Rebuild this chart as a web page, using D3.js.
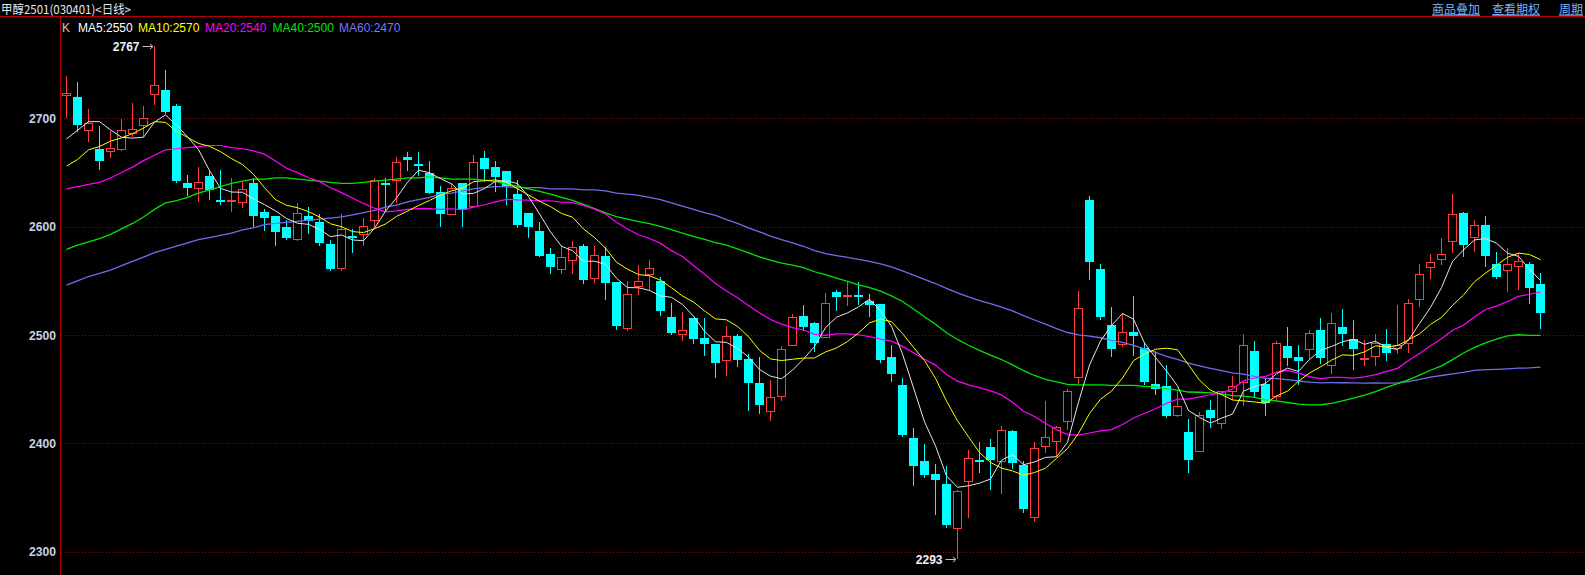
<!DOCTYPE html>
<html><head><meta charset="utf-8">
<script src="https://cdn.jsdelivr.net/npm/d3@7"></script>
<style>html,body{margin:0;padding:0;background:#000;overflow:hidden}</style>
</head><body>
<script>
const opens = [2721,2720,2688,2672,2669,2671,2686,2693,2722,2726,
2711,2640,2635,2647,2625,2624,2622,2640,2614,2610,
2600,2588,2610,2604,2584,2561,2591,2592,2605,2640,
2642,2664,2658,2650,2632,2611,2640,2618,2663,2655,
2651,2630,2613,2596,2575,2560,2568,2582,2552,2573,
2549,2506,2544,2555,2550,2517,2500,2516,2497,2492,
2476,2499,2478,2456,2429,2443,2490,2518,2511,2497,
2540,2535,2537,2531,2529,2480,2454,2405,2384,2372,
2362,2321,2364,2385,2397,2383,2411,2380,2331,2397,
2401,2420,2460,2625,2561,2509,2491,2503,2488,2455,
2453,2425,2410,2392,2431,2418,2447,2456,2485,2455,
2443,2490,2480,2486,2505,2471,2507,2496,2477,2480,
2492,2487,2492,2532,2562,2569,2586,2613,2590,2602,
2566,2559,2563,2566,2547];
const highs = [2739,2734,2709,2693,2688,2699,2714,2711,2767,2745,
2713,2648,2655,2652,2652,2645,2641,2645,2616,2610,
2606,2622,2618,2612,2588,2612,2598,2608,2645,2645,
2664,2669,2669,2661,2638,2640,2640,2666,2670,2661,
2651,2643,2613,2604,2580,2582,2587,2584,2582,2581,
2549,2550,2565,2569,2554,2530,2521,2516,2516,2492,
2508,2501,2482,2480,2458,2490,2519,2528,2512,2539,
2542,2550,2549,2538,2529,2491,2460,2414,2399,2381,
2379,2357,2394,2401,2404,2416,2412,2384,2401,2439,
2416,2450,2541,2628,2566,2526,2520,2536,2493,2485,
2472,2448,2422,2429,2440,2448,2462,2501,2494,2459,
2494,2507,2491,2505,2516,2520,2524,2514,2495,2501,
2506,2528,2533,2566,2575,2590,2630,2614,2606,2610,
2577,2580,2576,2567,2557];
const lows = [2700,2687,2678,2652,2663,2670,2683,2683,2712,2704,
2640,2628,2623,2625,2620,2614,2617,2600,2596,2582,
2588,2587,2593,2582,2559,2559,2576,2582,2600,2614,
2622,2651,2647,2630,2600,2611,2600,2618,2641,2632,
2620,2599,2590,2572,2556,2556,2556,2547,2548,2532,
2505,2504,2537,2541,2518,2500,2494,2492,2481,2460,
2462,2470,2430,2427,2421,2439,2490,2504,2484,2497,
2522,2527,2528,2517,2474,2457,2406,2361,2368,2334,
2322,2293,2331,2373,2357,2353,2376,2336,2327,2391,
2387,2412,2455,2551,2514,2480,2489,2481,2454,2445,
2423,2424,2373,2392,2414,2413,2440,2434,2443,2425,
2438,2471,2454,2478,2473,2464,2490,2468,2471,2471,
2476,2482,2483,2526,2552,2565,2576,2572,2577,2563,
2552,2540,2542,2529,2506];
const closes = [2723,2694,2696,2661,2673,2689,2690,2700,2731,2706,
2642,2636,2641,2634,2624,2625,2635,2610,2608,2595,
2590,2613,2605,2585,2561,2598,2590,2601,2643,2639,
2660,2662,2657,2631,2612,2636,2615,2660,2653,2646,
2638,2602,2600,2573,2563,2572,2581,2551,2574,2548,
2508,2538,2550,2562,2522,2502,2505,2496,2492,2474,
2499,2477,2456,2435,2443,2487,2517,2507,2493,2530,
2535,2537,2535,2528,2477,2464,2408,2379,2371,2366,
2325,2356,2386,2383,2385,2412,2382,2339,2396,2406,
2415,2448,2525,2567,2517,2487,2503,2499,2457,2450,
2425,2434,2385,2426,2423,2448,2453,2491,2447,2437,
2493,2479,2476,2502,2479,2511,2501,2487,2479,2493,
2483,2491,2530,2556,2567,2575,2612,2583,2602,2573,
2554,2566,2568,2543,2520];

// moving-average values for bars whose history lies before the visible window
const ma5Pre = [2681,2689,2697,2697];
const ma10Pre = [2656,2662,2671,2674,2679,2682,2686,2691,2697];
const ma20Pre = [2635,2637,2639,2641,2645,2650,2655,2661,2666,2671,2672,2673,2674,2675,2675,2673,2672,2670,2667];
const ma40Pre = [2579,2583,2586,2589,2593,2598,2603,2609,2616,2622,
2624,2627,2631,2634,2637,2640,2642,2644,2644,2645,
2645,2644,2643,2642,2641,2640,2640,2641,2642,2643,
2644,2645,2645,2646,2645,2644,2644,2644,2643];
const ma60Pre = [2546,2550,2554,2557,2560,2564,2568,2572,2576,2579,
2582,2585,2588,2590,2592,2594,2597,2599,2602,2603,
2604,2605,2606,2607,2608,2609,2611,2613,2615,2618,
2620,2623,2625,2627,2630,2631,2633,2635,2636,2637,
2637,2636,2636,2636,2635,2635,2635,2634,2634,2633,
2631,2630,2629,2627,2625,2622,2619,2616,2613];

const yTicks = [2300,2400,2500,2600,2700];
const maNames = ["MA5","MA10","MA20","MA40","MA60"];
const maPeriods = [5,10,20,40,60];
const maLegendValues = [2550,2570,2540,2500,2470];
const titleText = "甲醇2501(030401)<日线>";
const linkTexts = ["商品叠加","查看期权","周期"];

const W = 1585, H = 575;
const n = closes.length;
const svg = d3.select("body").append("svg").attr("width", W).attr("height", H)
  .style("display","block").style("background","#000");

const y = d3.scaleLinear().domain([2300, 2700]).range([551.6, 118.4]);
const x = d3.scaleLinear().domain([0, n - 1]).range([66, 66 + (n - 1) * 11]);

const RED = "#ff3c3c", CYAN = "#00ffff", AXIS = "#b40000";

// header
svg.append("text").attr("x", 1).attr("y", 13.5).text(titleText)
  .attr("fill", "#e8e8e8").attr("font-family", "'Noto Sans CJK SC', sans-serif")
  .attr("font-size", 12).attr("textLength", 130).attr("lengthAdjust", "spacingAndGlyphs");
const linkX = [1432, 1492, 1559];
linkTexts.forEach((t, i) => {
  svg.append("text").attr("x", linkX[i]).attr("y", 13.5).text(t)
    .attr("fill", "#78b4f4").attr("font-family", "'Noto Sans CJK SC', sans-serif")
    .attr("font-size", 12).attr("text-decoration", "underline");
});
svg.append("line").attr("x1", 0).attr("x2", W).attr("y1", 16.5).attr("y2", 16.5)
  .attr("stroke", AXIS).attr("stroke-width", 1);

// grid
svg.append("g").selectAll("line").data(yTicks).join("line")
  .attr("x1", 61).attr("x2", W)
  .attr("y1", d => Math.round(y(d)) + 0.5).attr("y2", d => Math.round(y(d)) + 0.5)
  .attr("stroke", "#a00000").attr("stroke-width", 1).attr("stroke-dasharray", "1,2");

// y axis
const yAxis = svg.append("g").attr("transform", "translate(60,0)")
  .call(d3.axisLeft(y).tickValues(yTicks).tickSize(0).tickPadding(4).tickFormat(d3.format("d")));
yAxis.select(".domain").remove();
yAxis.selectAll("text").attr("fill", "#c8d2e4").attr("font-family", "'Liberation Sans', Arial, sans-serif")
  .attr("font-size", 13).attr("font-weight", "bold")
  .attr("textLength", 27).attr("lengthAdjust", "spacingAndGlyphs");
svg.append("line").attr("x1", 60.5).attr("x2", 60.5).attr("y1", 17).attr("y2", H)
  .attr("stroke", AXIS).attr("stroke-width", 1);

// candles
const data = d3.range(n).map(i => ({i, o: opens[i], h: highs[i], l: lows[i], c: closes[i]}));
const cg = svg.append("g");
data.forEach(d => {
  const cx = Math.round(x(d.i)) + 0.5;
  const up = d.c >= d.o;
  const top = Math.round(y(Math.max(d.o, d.c)));
  const bot = Math.round(y(Math.min(d.o, d.c)));
  const yh = Math.round(y(d.h)), yl = Math.round(y(d.l));
  if (up) {
    cg.append("line").attr("x1", cx).attr("x2", cx).attr("y1", yh).attr("y2", top)
      .attr("stroke", RED).attr("stroke-width", 1);
    cg.append("line").attr("x1", cx).attr("x2", cx).attr("y1", bot).attr("y2", yl)
      .attr("stroke", RED).attr("stroke-width", 1);
    if (bot - top <= 1) {
      cg.append("rect").attr("x", cx - 4.5).attr("y", top).attr("width", 9).attr("height", Math.max(2, bot - top + 1)).attr("fill", RED);
    } else {
      cg.append("rect").attr("x", cx - 4).attr("y", top + 0.5).attr("width", 8).attr("height", bot - top - 1)
        .attr("fill", "none").attr("stroke", RED).attr("stroke-width", 1);
    }
  } else {
    cg.append("line").attr("x1", cx).attr("x2", cx).attr("y1", yh).attr("y2", yl)
      .attr("stroke", CYAN).attr("stroke-width", 1);
    cg.append("rect").attr("x", cx - 4.5).attr("y", top).attr("width", 9).attr("height", Math.max(2, bot - top))
      .attr("fill", CYAN);
  }
});

// moving averages
function ma(period, pre) {
  return closes.map((c, i) => i < period - 1 ? pre[i] : d3.mean(closes.slice(i - period + 1, i + 1)));
}
const maSeries = [ma(5, ma5Pre), ma(10, ma10Pre), ma(20, ma20Pre), ma(40, ma40Pre), ma(60, ma60Pre)];
const maColors = ["#e6e6e6", "#ffff00", "#ff00ff", "#00e600", "#6e6ef0"];
const maWidths = [1, 1, 1.2, 1.3, 1.3];
const line = d3.line().x((d, i) => Math.round(x(i)) + 0.5).y(d => y(d));
[4, 3, 2, 1, 0].forEach(k => {
  svg.append("path").datum(maSeries[k]).attr("d", line)
    .attr("fill", "none").attr("stroke", maColors[k]).attr("stroke-width", maWidths[k]);
});

// legend
const lg = svg.append("g").attr("font-family", "'Liberation Sans', Arial, sans-serif").attr("font-size", 12);
lg.append("text").attr("x", 62).attr("y", 31.5).attr("fill", "#c8c8c8").text("K");
const legX = [78, 138, 205, 272.5, 339];
maNames.forEach((nm, k) => {
  lg.append("text").attr("x", legX[k]).attr("y", 31.5).attr("fill", maColors[k] === "#e6e6e6" ? "#ffffff" : (k === 4 ? "#7878f8" : maColors[k]))
    .text(nm + ":" + maLegendValues[k]);
});

// max / min annotations
const iMax = d3.maxIndex(highs), iMin = d3.minIndex(lows);
function annot(i, v) {
  const cx = Math.round(x(i)) + 0.5;
  const yy = Math.round(y(v)) + 0.5;
  svg.append("text").attr("x", cx - 15).attr("y", yy + 4.5).attr("text-anchor", "end")
    .attr("fill", "#eef0f8").attr("font-family", "'Liberation Sans', Arial, sans-serif")
    .attr("font-size", 12).attr("font-weight", "bold").text(v);
  svg.append("line").attr("x1", cx - 12).attr("x2", cx - 1.5).attr("y1", yy).attr("y2", yy)
    .attr("stroke", "#c0c0c0").attr("stroke-width", 1);
  svg.append("path").attr("d", `M${cx - 4.5},${yy - 2.5}L${cx - 1.5},${yy}L${cx - 4.5},${yy + 2.5}`)
    .attr("fill", "none").attr("stroke", "#c0c0c0").attr("stroke-width", 1);
}
annot(iMax, highs[iMax]);
annot(iMin, lows[iMin]);
</script>
</body></html>
